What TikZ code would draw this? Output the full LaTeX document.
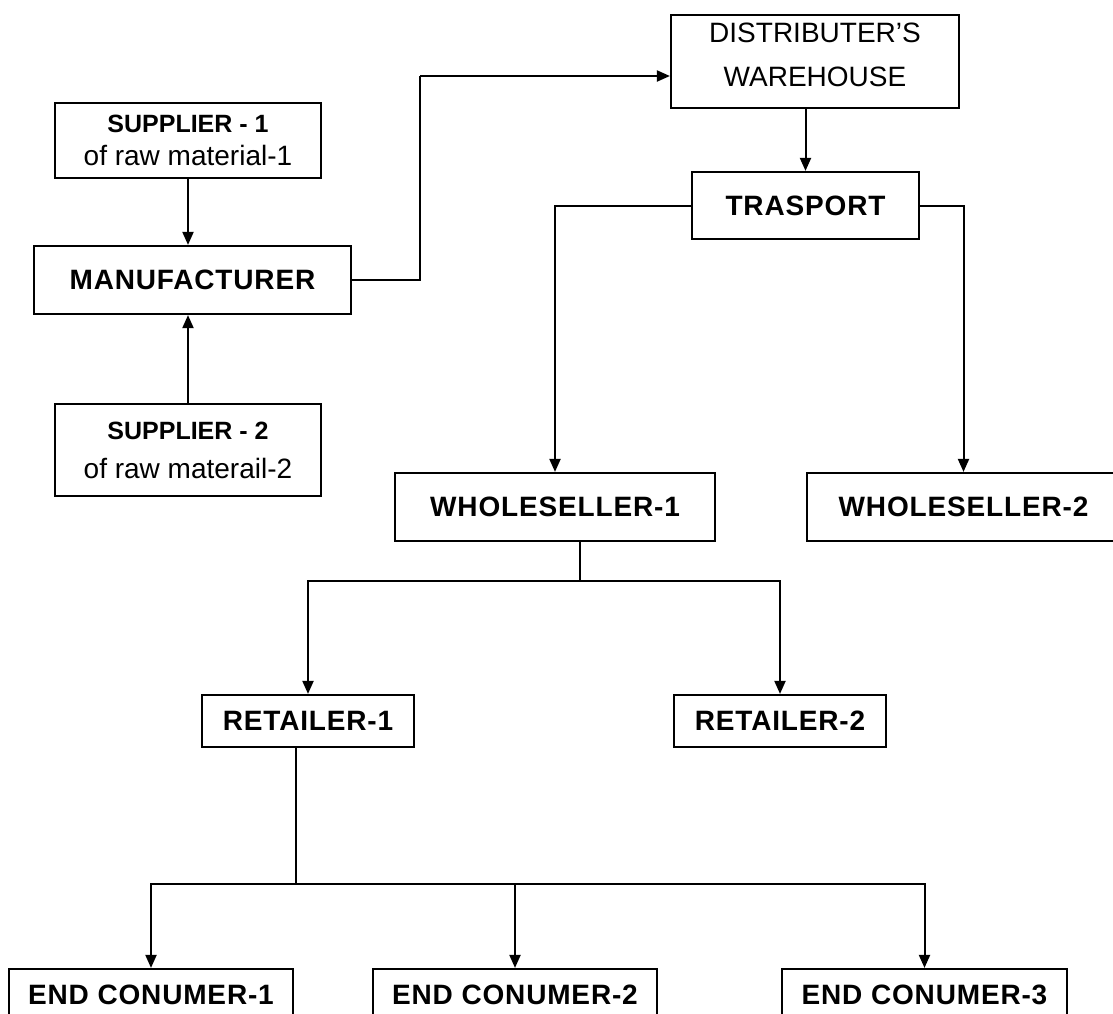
\documentclass[tikz,border=0pt]{standalone}
\usepackage{fontspec}
\setmainfont{Liberation Sans}
\newfontfamily\boldlab[LetterSpace=3]{Liberation Sans}
\usetikzlibrary{arrows, arrows.meta}
\usetikzlibrary{positioning}
\usetikzlibrary{calc}

\tikzset{
	box/.style={draw, line width=1.1pt, inner sep=0pt, align=center},
	heavy/.style={box, font=\boldlab\bfseries\fontsize{14}{16}\selectfont},
	arr/.style={line width=1pt, -{Triangle[length=6.5pt,width=5.5pt]}},
	lin/.style={line width=1pt}
}

\begin{document}
\begin{tikzpicture}[x=0.5pt, y=-0.5pt]
					% page frame
					\useasboundingbox (0,0) rectangle (1113,1013);
					\clip (0,0) rectangle (1113,1013);
					% suppliers and manufacturer
					\node[box, font=\fontsize{14}{16.5}\selectfont, minimum width=133pt, minimum height=37.5pt] (sup1) at (188,140.5)
						{{\bfseries\fontsize{12.5}{16}\selectfont SUPPLIER - 1}\\of raw material-1};
					\node[heavy, minimum width=158.5pt, minimum height=34pt] (manu) at (192.5,280) {MANUFACTURER};
					\node[box, font=\fontsize{14}{19.5}\selectfont, minimum width=133pt, minimum height=46pt] (sup2) at (188,450)
						{{\bfseries\fontsize{12.5}{16}\selectfont SUPPLIER - 2}\\of raw materail-2};
					% distributer and transport
					\node[box, font=\fontsize{14}{22}\selectfont, minimum width=144pt, minimum height=46.5pt] (dist) at (815,61.5)
						{DISTRIBUTER'S\\WAREHOUSE\\[-15pt]};
					\node[heavy, minimum width=113.5pt, minimum height=33.5pt] (trans) at (805.5,205.5) {TRASPORT};
					% wholesellers
					\node[heavy, minimum width=160pt, minimum height=34pt] (whole1) at (555,507) {WHOLESELLER-1};
					\node[heavy, minimum width=156.5pt, minimum height=34pt] (whole2) at (963.5,507) {WHOLESELLER-2};
					% retailers
					\node[heavy, minimum width=106pt, minimum height=26pt] (ret1) at (308,721) {RETAILER-1};
					\node[heavy, minimum width=106pt, minimum height=26pt] (ret2) at (780,721) {RETAILER-2};
					% end consumers
					\node[heavy, minimum width=142pt, minimum height=26pt] (endc1) at (151,995) {END CONUMER-1};
					\node[heavy, minimum width=142pt, minimum height=26pt] (endc2) at (515,995) {END CONUMER-2};
					\node[heavy, minimum width=142.5pt, minimum height=26pt] (endc3) at (924.5,995) {END CONUMER-3};
					% turning points
					\coordinate (bend) at (420,76);
					\coordinate (split1) at (580,581);
					\coordinate (split2) at (296,884);
					% connectors
					\draw[arr] (sup1.south) -- (sup1.south |- manu.north);
					\draw[arr] (sup2.north) -- (sup2.north |- manu.south);
					\draw[lin] (manu.east) -| (bend);
					\draw[arr] (bend) -- (bend -| dist.west);
					\draw[arr] (trans.north |- dist.south) -- (trans.north);
					\draw[arr] (trans.west) -| (whole1.north);
					\draw[arr] (trans.east) -| (whole2.north);
					\draw[lin] (whole1.south -| split1) -- (split1);
					\draw[arr] (split1) -| (ret1.north);
					\draw[arr] (split1) -| (ret2.north);
					\draw[lin] (ret1.south -| split2) -- (split2);
					\draw[arr] (split2) -| (endc1.north);
					\draw[arr] (split2) -| (endc2.north);
					\draw[arr] (split2) -| (endc3.north);
				\end{tikzpicture}
\end{document}
